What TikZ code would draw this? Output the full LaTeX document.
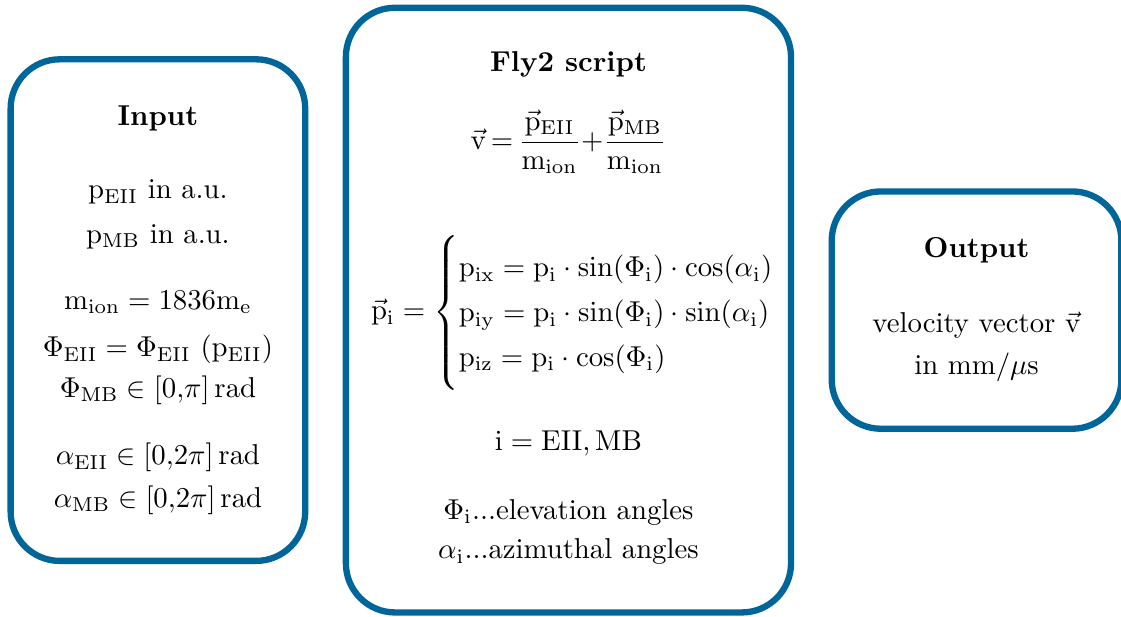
\documentclass[tikz,border=0pt]{standalone}
\usepackage{amsmath,amssymb}
\usetikzlibrary{positioning}

\definecolor{boxblue}{RGB}{0,102,153}

\begin{document}
\begin{tikzpicture}[
    node distance=0.42cm,
    stage/.style={draw=boxblue, line width=2.2pt, rounded corners=0.6cm},
    txt/.style={anchor=base, inner sep=0pt}
]
    \useasboundingbox (0,0) rectangle (13.70,7.54);

    % the three boxes
    \node[stage, minimum width=3.60cm, minimum height=6.13cm] (input) at (1.93,3.75) {};
    \node[stage, minimum width=5.44cm, minimum height=7.39cm, right=of input] (fly) {};
    \node[stage, minimum width=3.54cm, minimum height=2.90cm, right=of fly] (output) {};

    % input
    \node[txt] (intitle) at ([yshift=2.25cm]input.center) {\textbf{Input}};
    \node[txt] (pEII)  at ([yshift=1.36cm]input.center)  {$\mathrm{p_{EII}}$ in a.u.};
    \node[txt] (pMB)   at ([yshift=0.82cm]input.center)  {$\mathrm{p_{MB}}$ in a.u.};
    \node[txt] (mion)  at ([yshift=0.01cm]input.center)  {$\mathrm{m_{ion}} = 1836\mathrm{m_e}$};
    \node[txt] (phiEII) at ([yshift=-0.57cm]input.center) {$\Phi_{\mathrm{EII}} = \Phi_{\mathrm{EII}}\ (\mathrm{p_{EII}})$};
    \node[txt] (phiMB) at ([yshift=-1.07cm]input.center) {$\Phi_{\mathrm{MB}} \in [0{,}\pi]\,\mathrm{rad}$};
    \node[txt] (aEII)  at ([yshift=-1.89cm]input.center) {$\alpha_{\mathrm{EII}} \in [0{,}2\pi]\,\mathrm{rad}$};
    \node[txt] (aMB)   at ([yshift=-2.41cm]input.center) {$\alpha_{\mathrm{MB}} \in [0{,}2\pi]\,\mathrm{rad}$};

    % fly2 script
    \node[txt] (flytitle) at ([yshift=2.91cm]fly.center) {\textbf{Fly2 script}};
    \node[txt] (vel) at ([yshift=1.96cm]fly.center)
        {\thickmuskip=3mu \medmuskip=0mu
         $\vec{\mathrm{v}} = \dfrac{\vec{\mathrm{p}}_{\mathrm{EII}}}{\mathrm{m_{ion}}} + \dfrac{\vec{\mathrm{p}}_{\mathrm{MB}}}{\mathrm{m_{ion}}}$};
    \node[txt] (pvec) at ([xshift=0.06cm, yshift=-0.12cm]fly.center)
        {\def\arraystretch{1.3}%
         $\vec{\mathrm{p}}_{\mathrm{i}} = \left\{\rule[-26.5pt]{0pt}{58pt}\begin{array}{@{}l@{}}
            \mathrm{p_{ix}} = \mathrm{p_i}\cdot\sin(\Phi_{\mathrm{i}})\cdot\cos(\alpha_{\mathrm{i}})\\
            \mathrm{p_{iy}} = \mathrm{p_i}\cdot\sin(\Phi_{\mathrm{i}})\cdot\sin(\alpha_{\mathrm{i}})\\
            \mathrm{p_{iz}} = \mathrm{p_i}\cdot\cos(\Phi_{\mathrm{i}})
        \end{array}\right.$};
    \node[txt] (index) at ([yshift=-1.72cm]fly.center) {$\mathrm{i} = \mathrm{EII}, \mathrm{MB}$};
    \node[txt] (elev)  at ([yshift=-2.56cm]fly.center) {$\Phi_{\mathrm{i}}$...elevation angles};
    \node[txt] (azim)  at ([yshift=-3.04cm]fly.center) {$\alpha_{\mathrm{i}}$...azimuthal angles};

    % output
    \node[txt] (outtitle) at ([yshift=0.64cm]output.center) {\textbf{Output}};
    \node[txt] (velvec) at ([yshift=-0.27cm]output.center) {velocity vector $\vec{\mathrm{v}}$};
    \node[txt] (unit)   at ([yshift=-0.79cm]output.center) {in $\mathrm{mm}/\mu\mathrm{s}$};
\end{tikzpicture}
\end{document}
